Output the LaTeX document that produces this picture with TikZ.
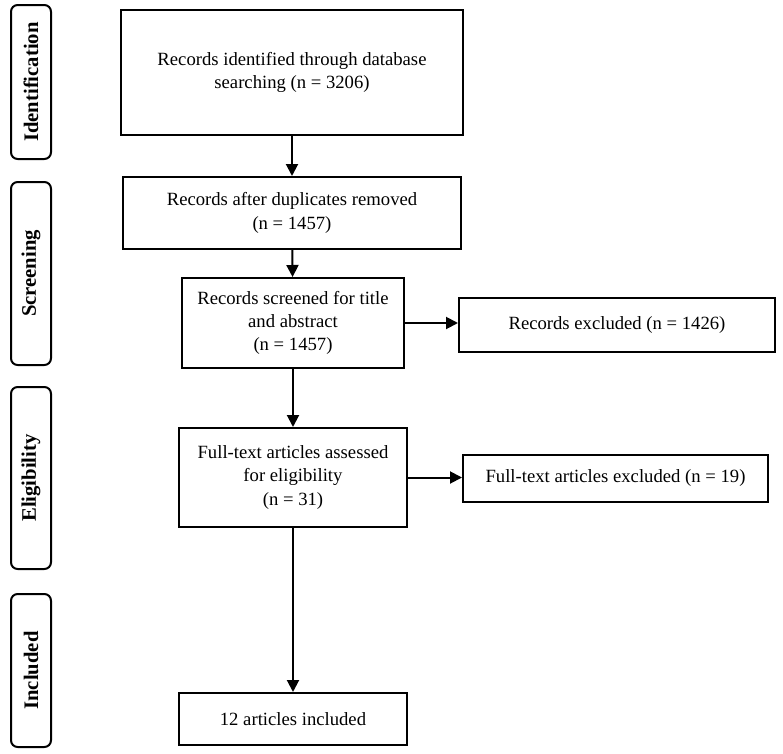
\documentclass[tikz,border=0pt]{standalone}
\usepackage{fontspec}
\setmainfont{Liberation Serif}
\usetikzlibrary{arrows.meta}
\begin{document}
\begin{tikzpicture}[x=0.75pt,y=-0.75pt,
  box/.style={draw=black, line width=1.5pt, align=center, inner sep=0pt,
    font=\fontsize{14}{17.5}\selectfont},
  phase/.style={draw=black, line width=1.5pt, rounded corners=5pt, rotate=90,
    inner sep=0pt, minimum height=30pt, font=\fontsize{15.5}{18}\selectfont\bfseries},
  arr/.style={line width=1.5pt, -{Triangle[length=9pt,width=9pt]}}]
\useasboundingbox (0,0) rectangle (783,754);
% phase labels
\node[phase, minimum width=115.5pt] (ident) at (31,82) {Identification};
\node[phase, minimum width=137.25pt] (screen) at (31,273.5) {Screening};
\node[phase, minimum width=136.5pt] (elig) at (31,478) {Eligibility};
\node[phase, minimum width=114.75pt] (incl) at (31,670.5) {Included};
% main boxes
\node[box, minimum width=256.5pt, minimum height=93.75pt] (b1) at (292,72.5)
  {Records identified through database\\searching (n = 3206)};
\node[box, minimum width=253.5pt, minimum height=54pt] (b2) at (292,213)
  {Records after duplicates removed\\(n = 1457)};
\node[box, minimum width=166.5pt, minimum height=67.5pt] (b3) at (293,323)
  {Records screened for title\\and abstract\\(n = 1457)};
\node[box, minimum width=237pt, minimum height=40.5pt] (e1) at (617,325)
  {Records excluded (n = 1426)};
\node[box, minimum width=171pt, minimum height=74.25pt] (b4) at (293,477.5)
  {Full-text articles assessed\\for eligibility\\(n = 31)};
\node[box, minimum width=228.75pt, minimum height=35.25pt] (e2) at (615.5,478.5)
  {Full-text articles excluded (n = 19)};
\node[box, minimum width=171pt, minimum height=39pt] (b5) at (293,719)
  {12 articles included};
% connectors
\draw[arr] (b1) -- (b2);
\draw[arr] (b2) -- (b3);
\draw[arr] (b3) -- (b3 -| e1.west);
\draw[arr] (b3) -- (b4);
\draw[arr] (b4) -- (b4 -| e2.west);
\draw[arr] (b4) -- (b5);
\end{tikzpicture}
\end{document}
